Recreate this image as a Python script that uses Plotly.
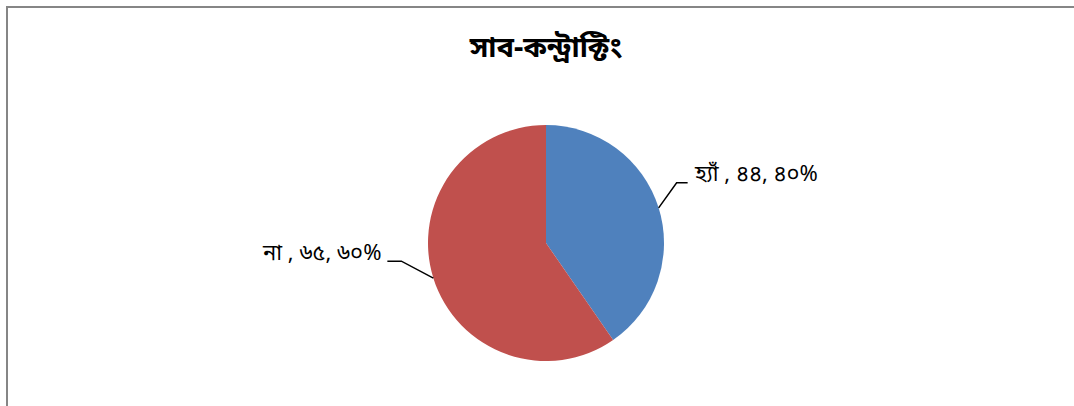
import math
import plotly.graph_objects as go

# Data
labels = ["হ্যাঁ", "না"]
values = [44, 65]
colors = ["#4F81BD", "#C0504D"]
title_text = "সাব-কন্ট্রাক্টিং"

W, H = 1074, 406
FONT = "Noto Sans Bengali, Vrinda, Noto Sans, sans-serif"

# Pie geometry (pixels)
CX, CY, R = 546, 243, 118

BN_DIGITS = str.maketrans("0123456789", "০১২৩৪৫৬৭৮৯")


def bn(n):
    return str(n).translate(BN_DIGITS)


def px(x):
    return x / W


def py(y):
    return 1 - y / H


total = sum(values)
pcts = [round(100 * v / total) for v in values]

fig = go.Figure(
    go.Pie(
        labels=labels,
        values=values,
        marker=dict(colors=colors, line=dict(width=0)),
        sort=False,
        direction="clockwise",
        rotation=0,
        textinfo="none",
        hoverinfo="label+value+percent",
        domain=dict(x=[px(CX - R), px(CX + R)], y=[py(CY + R), py(CY - R)]),
        showlegend=False,
    )
)

# Leader-line elbow offsets and label side per slice
elbow = [(18, -25), (-32, -17)]
tail = [11, -14]

shapes = []
annotations = []
start = 0.0
for i, v in enumerate(values):
    frac = v / total
    mid = (start + frac / 2) * 2 * math.pi
    start += frac
    x0 = CX + R * math.sin(mid)
    y0 = CY - R * math.cos(mid)
    x1 = x0 + elbow[i][0]
    y1 = y0 + elbow[i][1]
    x2 = x1 + tail[i]
    y2 = y1
    shapes.append(
        dict(
            type="path",
            xref="paper",
            yref="paper",
            path=f"M {px(x0)},{py(y0)} L {px(x1)},{py(y1)} L {px(x2)},{py(y2)}",
            line=dict(color="black", width=1.5),
        )
    )
    right = tail[i] > 0
    annotations.append(
        dict(
            x=px(x2 + (4 if right else -4)),
            y=py(y2 - 7),
            xref="paper",
            yref="paper",
            text=f"{labels[i]} , {bn(v)}, {bn(pcts[i])}%",
            showarrow=False,
            xanchor="left" if right else "right",
            yanchor="middle",
            font=dict(family=FONT, size=22, color="black"),
        )
    )

# Chart-area border
shapes.append(
    dict(
        type="rect",
        xref="paper",
        yref="paper",
        x0=px(7),
        y0=py(H + 10),
        x1=px(W + 10),
        y1=py(7),
        line=dict(color="#868686", width=2),
        fillcolor="rgba(0,0,0,0)",
    )
)

fig.update_layout(
    width=W,
    height=H,
    margin=dict(l=0, r=0, t=0, b=0),
    paper_bgcolor="white",
    plot_bgcolor="white",
    title=dict(
        text=f"<b>{title_text}</b>",
        x=px(CX),
        xanchor="center",
        y=py(47),
        yanchor="middle",
        yref="container",
        font=dict(family=FONT, size=29, color="black"),
    ),
    shapes=shapes,
    annotations=annotations,
)

fig.write_html("out.html")
